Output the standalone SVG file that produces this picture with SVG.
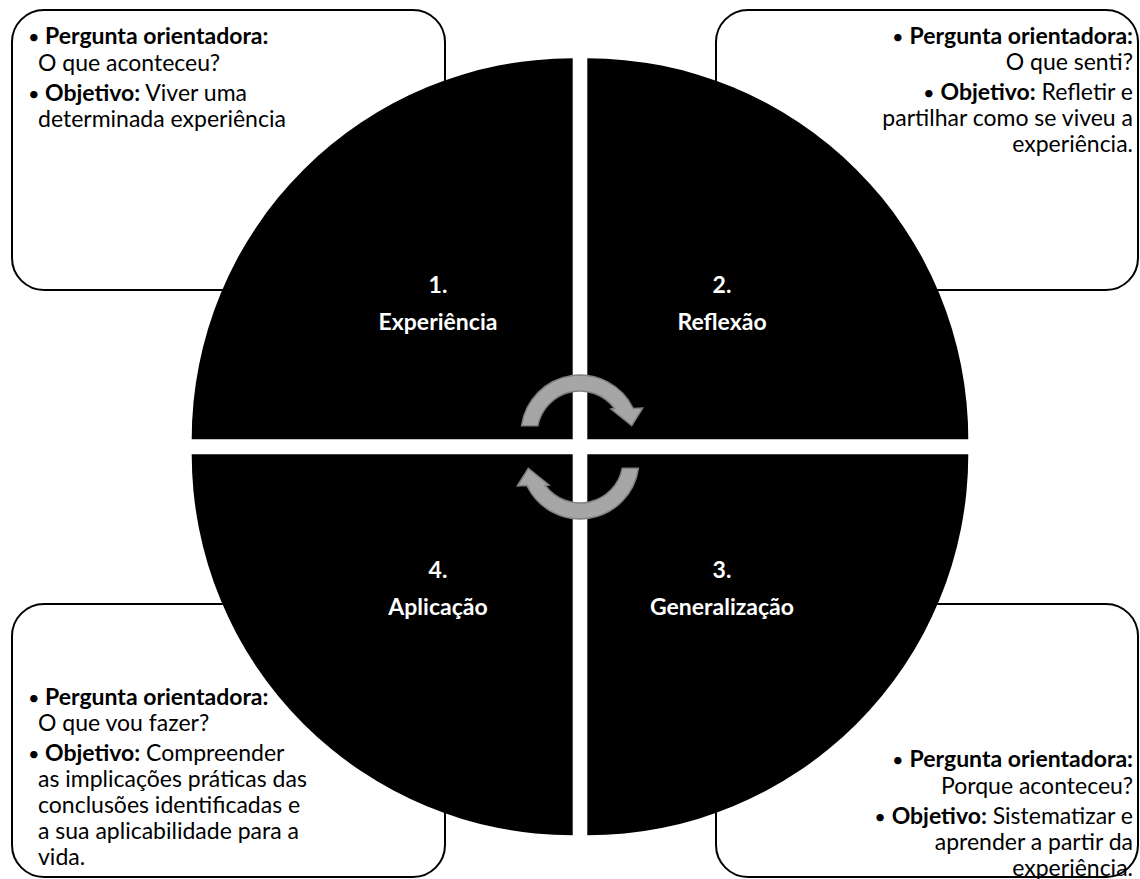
<svg xmlns="http://www.w3.org/2000/svg" width="1140" height="879" viewBox="0 0 1140 879">
<style>
.box{fill:#fff;stroke:#000;stroke-width:2}
.q{fill:#000}
.t{font-family:Lato,"Liberation Sans",sans-serif;font-size:23px;fill:#000}
.b{font-weight:bold}
.e{text-anchor:end}
.bu{font-size:20px}
.lbl{font-family:Lato,"Liberation Sans",sans-serif;font-size:23px;font-weight:bold;fill:#fff;text-anchor:middle}
.arr{fill:#a6a6a6;stroke:#7f7f7f;stroke-width:1.5;stroke-linejoin:miter}
</style>
<defs>
<path id="carrow" class="arr" d="M521.6 425.7 A59 59 0 0 1 633.2 408.5 L642.7 408 L631.7 425.7 L611 409 L614.6 408.5 A43 43 0 0 0 537.8 425.7 Z"/>
</defs>
<rect width="1140" height="879" fill="#fff"/>
<g id="box1">
<rect class="box" x="12" y="10" width="433" height="280" rx="32"/>
<text class="t" y="44"><tspan x="28" class="bu">•</tspan><tspan x="45" class="b">Pergunta orientadora:</tspan></text>
<text class="t" x="38" y="71">O que aconteceu?</text>
<text class="t" y="101"><tspan x="28" class="bu">•</tspan><tspan x="45" class="b">Objetivo:</tspan> Viver uma</text>
<text class="t" x="38" y="127">determinada experiência</text>
</g>
<g id="box2">
<rect class="box" x="716" y="10" width="422" height="280" rx="32"/>
<text class="t e" x="1133" y="44"><tspan class="bu">•</tspan> <tspan class="b">Pergunta orientadora:</tspan></text>
<text class="t e" x="1133" y="70">O que senti?</text>
<text class="t e" x="1133" y="100"><tspan class="bu">•</tspan> <tspan class="b">Objetivo:</tspan> Refletir e</text>
<text class="t e" x="1133" y="126">partilhar como se viveu a</text>
<text class="t e" x="1133" y="152">experiência.</text>
</g>
<g id="box4">
<rect class="box" x="12" y="604" width="433" height="273" rx="32"/>
<text class="t" y="705"><tspan x="28" class="bu">•</tspan><tspan x="45" class="b">Pergunta orientadora:</tspan></text>
<text class="t" x="38" y="731">O que vou fazer?</text>
<text class="t" y="761"><tspan x="28" class="bu">•</tspan><tspan x="45" class="b">Objetivo:</tspan> Compreender</text>
<text class="t" x="38" y="787">as implicações práticas das</text>
<text class="t" x="38" y="813">conclusões identificadas e</text>
<text class="t" x="38" y="839">a sua aplicabilidade para a</text>
<text class="t" x="38" y="865">vida.</text>
</g>
<g id="box3">
<rect class="box" x="716" y="604" width="422" height="273" rx="32"/>
<text class="t e" x="1133" y="767"><tspan class="bu">•</tspan> <tspan class="b">Pergunta orientadora:</tspan></text>
<text class="t e" x="1133" y="794">Porque aconteceu?</text>
<text class="t e" x="1133" y="824"><tspan class="bu">•</tspan> <tspan class="b">Objetivo:</tspan> Sistematizar e</text>
<text class="t e" x="1133" y="850">aprender a partir da</text>
<text class="t e" x="1133" y="876">experiência.</text>
</g>
<g id="q1">
<path class="q" d="M572.7 439.3 L191.7 439.3 A381 381 0 0 1 572.7 58.3 Z"/>
<text class="lbl" x="438" y="293">1.</text>
<text class="lbl" x="438" y="330">Experiência</text>
</g>
<g id="q2">
<path class="q" d="M587.3 439.3 L587.3 58.3 A381 381 0 0 1 968.3 439.3 Z"/>
<text class="lbl" x="722" y="293">2.</text>
<text class="lbl" x="722" y="330">Reflexão</text>
</g>
<g id="q3">
<path class="q" d="M587.3 454.3 L968.3 454.3 A381 381 0 0 1 587.3 835.3 Z"/>
<text class="lbl" x="722" y="578">3.</text>
<text class="lbl" x="722" y="615">Generalização</text>
</g>
<g id="q4">
<path class="q" d="M572.7 454.3 L572.7 835.3 A381 381 0 0 1 191.7 454.3 Z"/>
<text class="lbl" x="438" y="578">4.</text>
<text class="lbl" x="438" y="615">Aplicação</text>
</g>
<g id="connectors">
<use href="#carrow"/>
<use href="#carrow" transform="rotate(180 580 447)"/>
</g>
</svg>
